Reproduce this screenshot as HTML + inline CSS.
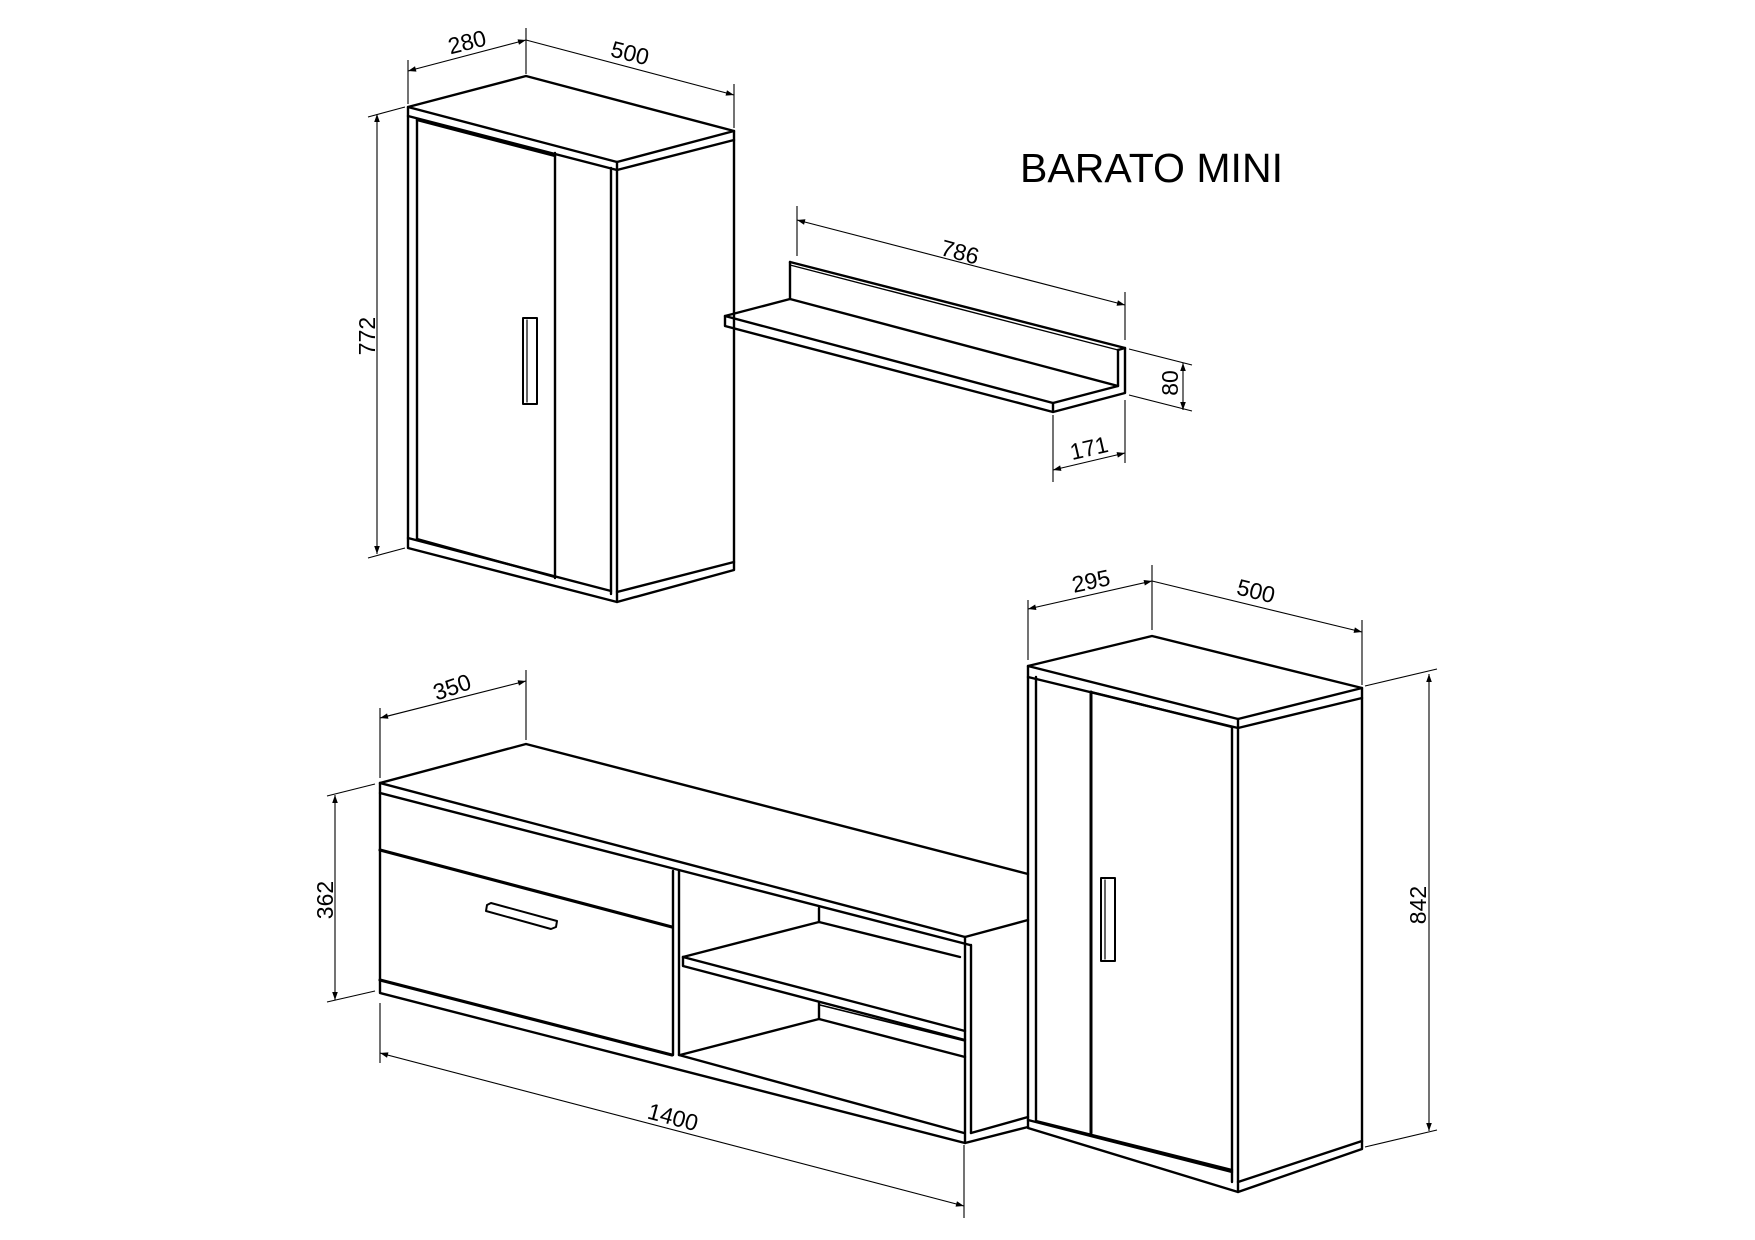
<!DOCTYPE html>
<html><head><meta charset="utf-8"><style>html,body{margin:0;padding:0;background:#fff}svg{display:block}</style></head>
<body>
<svg width="1755" height="1240" viewBox="0 0 1755 1240" xmlns="http://www.w3.org/2000/svg">
<defs>
<marker id="a" viewBox="0 0 10 10" refX="10" refY="5" markerWidth="16" markerHeight="8" markerUnits="userSpaceOnUse" orient="auto-start-reverse">
<path d="M0,1.5 L10,5 L0,8.5 Z" fill="#000"/></marker>
</defs>
<g fill="none" stroke="#000" stroke-width="2.4" stroke-linejoin="round" stroke-linecap="round">
<path d="M408,107 L526,76 L734,131 L617,162 Z" fill="#fff"/>
<path d="M408,107 L408,548 L617,602 L734,570 L734,131"/>
<path d="M408,116 L617,170 L734,140"/>
<path d="M617,162 L617,602"/>
<path d="M611,168 L611,594"/>
<path d="M417,119 L417,540"/>
<path d="M417,120 L555,156"/>
<path d="M408,538 L611,591"/>
<path d="M617,592 L734,562"/>
<path d="M417,539 L555,577"/>
<path d="M555,153 L555,578"/>
<rect x="523" y="318" width="14" height="86" stroke-width="2"/>
<path d="M527,320 L527,402" stroke-width="1.2"/>
<path d="M790,262 L1125,348 L1125,393 L1053,412 L1053,403 L725,316 L725,326 L1053,412"/>
<path d="M790,262 L790,299 L725,316"/>
<path d="M790,299 L1118,386 L1053,403"/>
<path d="M1118,350 L1118,386"/>
<path d="M1118,350 L1125,348"/>
<path d="M790,265 L1118,350" stroke-width="1.4"/>
<path d="M380,783 L526,744 L1028,874" />
<path d="M380,783 L965,937 L1028,920"/>
<path d="M380,793 L970,945"/>
<path d="M380,783 L380,993 L965,1143 L1028,1127"/>
<path d="M965,937 L965,1143"/>
<path d="M971,945 L971,1133"/>
<path d="M971,1133 L1028,1117"/>
<path d="M380,850 L672,927" stroke-width="3.2"/>
<path d="M380,980 L672,1055" stroke-width="3.2"/>
<path d="M673,871 L673,1055"/>
<path d="M679,871 L679,1055"/>
<path d="M679,1055 L964,1133"/>
<path d="M683,957 L819,922 L960,957"/>
<path d="M683,957 L683,966 L965,1040"/>
<path d="M683,957 L965,1031"/>
<path d="M819,908 L819,922"/>
<path d="M819,1003 L819,1019"/>
<path d="M680,1055 L819,1019 L965,1057"/>
<path d="M820,1005 L965,1041" stroke-width="1.6"/>
<path d="M487,905 L491,903 L557,921 L556,927 L551,929 L486,911 Z" stroke-width="2"/>
<path d="M1028,666 L1152,636 L1362,688 L1238,719 Z" fill="#fff"/>
<path d="M1028,666 L1028,1128 L1238,1192 L1362,1149 L1362,688"/>
<path d="M1028,677 L1238,728 L1362,698"/>
<path d="M1238,719 L1238,1192"/>
<path d="M1232,727 L1232,1182"/>
<path d="M1036,677 L1036,1121"/>
<path d="M1028,1120 L1232,1172"/>
<path d="M1238,1182 L1362,1141"/>
<path d="M1036,1121 L1232,1170"/>
<path d="M1091,692 L1091,1133" stroke-width="3"/>
<path d="M1091,692 L1232,727"/>
<rect x="1101" y="878" width="14" height="83" stroke-width="2"/>
<path d="M1105,880 L1105,959" stroke-width="1.2"/>
</g>
<g fill="none" stroke="#000" stroke-width="1.1">
<path d="M408,60 L408,104 M526,28 L526,74 M734,84 L734,128"/>
<path d="M408,71 L526,40" marker-start="url(#a)" marker-end="url(#a)"/>
<path d="M526,40 L734,95" marker-end="url(#a)"/>
<path d="M368,117 L405,107 M368,558 L405,548"/>
<path d="M377,114 L377,554" marker-start="url(#a)" marker-end="url(#a)"/>
<path d="M797,206 L797,256 M1125,292 L1125,340"/>
<path d="M797,220 L1125,305" marker-start="url(#a)" marker-end="url(#a)"/>
<path d="M1129,349 L1192,365 M1129,395 L1192,411"/>
<path d="M1183,363 L1183,410" marker-start="url(#a)" marker-end="url(#a)"/>
<path d="M1053,415 L1053,482 M1125,400 L1125,463"/>
<path d="M1053,470 L1125,453" marker-start="url(#a)" marker-end="url(#a)"/>
<path d="M380,708 L380,778 M526,670 L526,740"/>
<path d="M380,718 L526,681" marker-start="url(#a)" marker-end="url(#a)"/>
<path d="M327,796 L375,784 M327,1002 L375,991"/>
<path d="M335,795 L335,1000" marker-start="url(#a)" marker-end="url(#a)"/>
<path d="M380,1003 L380,1063 M964,1145 L964,1218"/>
<path d="M380,1053 L964,1206" marker-start="url(#a)" marker-end="url(#a)"/>
<path d="M1028,600 L1028,660 M1152,565 L1152,630 M1362,620 L1362,685"/>
<path d="M1028,609 L1152,581" marker-start="url(#a)" marker-end="url(#a)"/>
<path d="M1152,581 L1362,632" marker-end="url(#a)"/>
<path d="M1365,686 L1437,669 M1365,1147 L1437,1130"/>
<path d="M1429,674 L1429,1131" marker-start="url(#a)" marker-end="url(#a)"/>
</g>
<g font-family="Liberation Sans, sans-serif" font-size="23" fill="#000" text-anchor="middle">
<text x="467" y="50" transform="rotate(-14 467 42)">280</text>
<text x="630" y="61" transform="rotate(14 630 53)">500</text>
<text x="367" y="344" transform="rotate(-90 367 336)">772</text>
<text x="960" y="260" transform="rotate(15 960 252)">786</text>
<text x="1170" y="391" transform="rotate(-90 1170 383)">80</text>
<text x="1089" y="456" transform="rotate(-13 1089 448)">171</text>
<text x="452" y="695" transform="rotate(-19 452 687)">350</text>
<text x="325" y="908" transform="rotate(-90 325 900)">362</text>
<text x="673" y="1125" transform="rotate(15 673 1117)">1400</text>
<text x="1091" y="589" transform="rotate(-12 1091 581)">295</text>
<text x="1256" y="599" transform="rotate(14 1256 591)">500</text>
<text x="1418" y="913" transform="rotate(-90 1418 905)">842</text>
</g>
<text x="1020" y="182" font-family="Liberation Sans, sans-serif" font-size="41" textLength="263" lengthAdjust="spacingAndGlyphs" fill="#000">BARATO MINI</text>
</svg>
</body></html>
